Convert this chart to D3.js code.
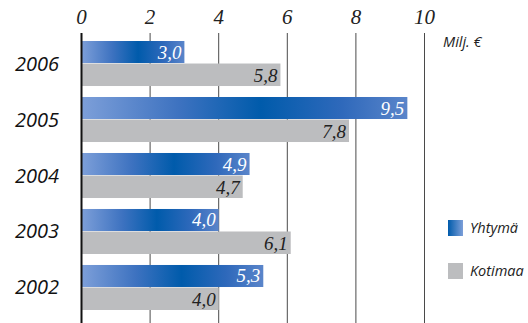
<!DOCTYPE html>
<html><head><meta charset="utf-8">
<script src="https://cdn.jsdelivr.net/npm/d3@7"></script>
<style>body{margin:0;background:#fff}svg{display:block}</style>
</head><body><svg id="c" width="528" height="323"></svg>
<script>
const years = ["2006","2005","2004","2003","2002"];
const yhtyma = [3.0, 9.5, 4.9, 4.0, 5.3];
const kotimaa = [5.8, 7.8, 4.7, 6.1, 4.0];
const ticks = [0,2,4,6,8,10];
const seriesNames = ["Yhtymä","Kotimaa"];

const svg = d3.select("#c");
const x = d3.scaleLinear().domain([0,10]).range([81.5,424.5]);
const y = d3.scaleBand().domain(years).range([41,310]).paddingInner(0.196).paddingOuter(0);
const fmt = v => d3.format(".1f")(v).replace(".", ",");

const defs = svg.append("defs");
const g = defs.append("linearGradient").attr("id","blueGrad").attr("x1",0).attr("x2",1).attr("y1",0).attr("y2",0);
g.append("stop").attr("offset","0%").attr("stop-color","#7d9fd9");
g.append("stop").attr("offset","30%").attr("stop-color","#3d72c0");
g.append("stop").attr("offset","55%").attr("stop-color","#005bab");
g.append("stop").attr("offset","80%").attr("stop-color","#2f69bb");
g.append("stop").attr("offset","100%").attr("stop-color","#5a85ca");
const lg = defs.append("linearGradient").attr("id","legGrad").attr("x1",0).attr("x2",1);
lg.append("stop").attr("offset","0%").attr("stop-color","#005bab");
lg.append("stop").attr("offset","100%").attr("stop-color","#7d9fd9");

// gridlines
svg.append("g").selectAll("line").data(ticks.slice(1)).join("line")
  .attr("x1",d=>x(d)).attr("x2",d=>x(d)).attr("y1",33).attr("y2",323)
  .attr("stroke","#4a4a4a").attr("stroke-width",1);

// top axis labels
svg.append("g").selectAll("text").data(ticks).join("text")
  .attr("x",d=>x(d)).attr("y",24).attr("text-anchor","middle")
  .attr("font-family","Liberation Serif").attr("font-style","italic").attr("font-size",21)
  .attr("fill","#222").text(d=>d);

const bh = y.bandwidth()/2;
const grp = svg.append("g").selectAll("g").data(years).join("g");
grp.append("rect").attr("x",x(0)).attr("y",d=>y(d))
  .attr("width",(d,i)=>x(yhtyma[i])-x(0)).attr("height",bh-0.5).attr("fill","url(#blueGrad)");
grp.append("rect").attr("x",x(0)).attr("y",d=>y(d)+bh)
  .attr("width",(d,i)=>x(kotimaa[i])-x(0)).attr("height",bh).attr("fill","#bcbdbf");
grp.append("text").attr("x",(d,i)=>x(yhtyma[i])-3).attr("y",d=>y(d)+bh-5)
  .attr("text-anchor","end").attr("font-family","Liberation Serif").attr("font-style","italic")
  .attr("font-size",19).attr("fill","#fff").text((d,i)=>fmt(yhtyma[i]));
grp.append("text").attr("x",(d,i)=>x(kotimaa[i])-3).attr("y",d=>y(d)+2*bh-4)
  .attr("text-anchor","end").attr("font-family","Liberation Serif").attr("font-style","italic")
  .attr("font-size",19).attr("fill","#222").text((d,i)=>fmt(kotimaa[i]));
grp.append("text").attr("x",15).attr("y",d=>y(d)+bh+7)
  .attr("font-family","Open Sans").attr("font-style","italic")
  .attr("font-size",20).attr("fill","#111").text(d=>d);

// zero axis line
svg.append("line").attr("x1",x(0)).attr("x2",x(0)).attr("y1",33).attr("y2",323)
  .attr("stroke","#111").attr("stroke-width",2);

svg.append("text").attr("x",443).attr("y",47).attr("font-family","Open Sans").attr("font-style","italic")
  .attr("font-size",14.5).attr("fill","#222").text("Milj. €");

// legend
const leg = svg.append("g").selectAll("g").data(seriesNames).join("g")
  .attr("transform",(d,i)=>`translate(448,${220+i*43})`);
leg.append("rect").attr("width",15).attr("height",16).attr("fill",(d,i)=>i===0?"url(#legGrad)":"#bcbdbf");
leg.append("text").attr("x",22).attr("y",13).attr("font-family","Open Sans").attr("font-style","italic")
  .attr("font-size",14.5).attr("fill","#222").text(d=>d);
</script></body></html>
